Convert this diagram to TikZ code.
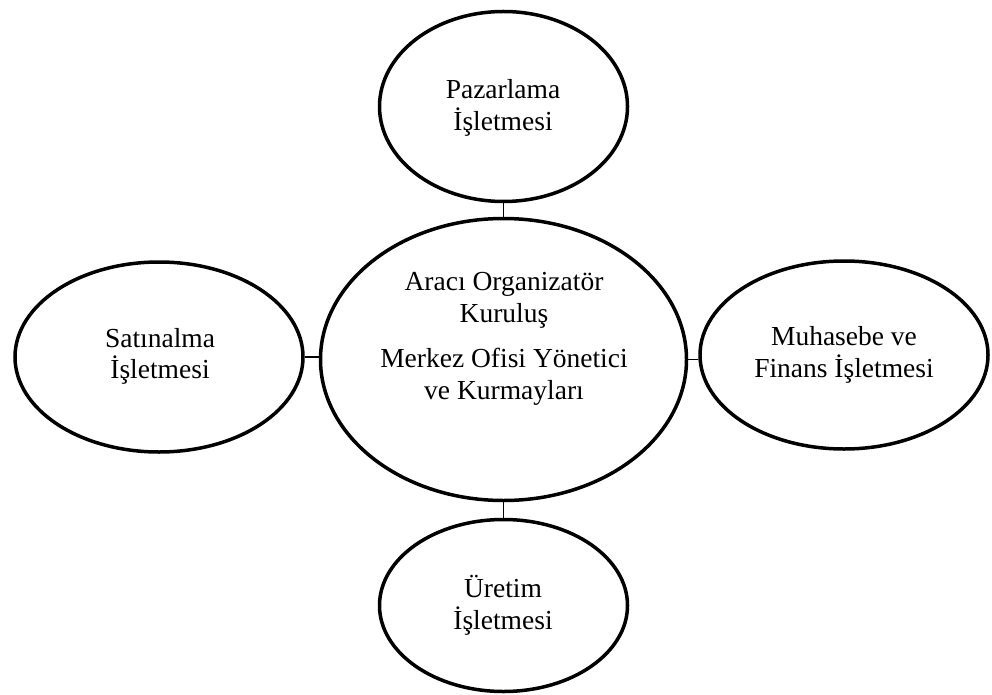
\documentclass[tikz,border=0pt]{standalone}
\usepackage{fontspec}
\setmainfont{Liberation Serif}
\usetikzlibrary{shapes.geometric}
\begin{document}
\begin{tikzpicture}[x=1pt,y=-1pt,
  oval/.style={draw=black, line width=3.5pt, ellipse, inner sep=0pt},
  lbl/.style={align=center, font=\fontsize{27.5pt}{31.5pt}\selectfont, inner sep=0pt},
  link/.style={draw=black, line width=1.8pt}]
\useasboundingbox (0,0) rectangle (992,695);
\node[oval, minimum width=248pt, minimum height=190pt] (top) at (503.5,106.5) {};
\node[oval, minimum width=366pt, minimum height=282pt] (ctr) at (503.5,359.5) {};
\node[oval, minimum width=288pt, minimum height=190pt] (lft) at (159,357) {};
\node[oval, minimum width=288pt, minimum height=188pt] (rgt) at (844,355) {};
\node[oval, minimum width=248pt, minimum height=172pt] (bot) at (503.5,605.5) {};
\node[lbl] (ttop) at (503,108) {Pazarlama\\İşletmesi};
\node[lbl] (tctr) at (504,339) {Aracı Organizatör\\Kuruluş\\[14pt]Merkez Ofisi Yönetici\\ve Kurmayları};
\node[lbl] (tlft) at (160,356.5) {Satınalma\\İşletmesi};
\node[lbl] (trgt) at (844,355) {Muhasebe ve\\Finans İşletmesi};
\node[lbl] (tbot) at (503,605.5) {Üretim\\İşletmesi};
\draw[link] (top.south) -- (ctr.north);
\draw[link] (ctr.south) -- (bot.north);
\draw[link] (lft.east) -- (lft.east -| ctr.west);
\draw[link] (ctr.east) -- (ctr.east -| rgt.west);
\end{tikzpicture}
\end{document}
